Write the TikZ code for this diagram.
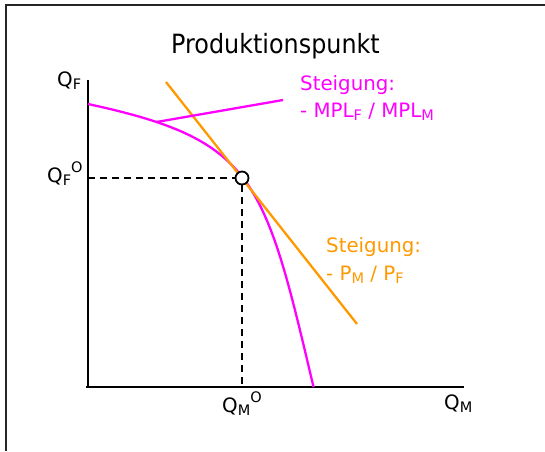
\documentclass[tikz,border=0pt]{standalone}
\usepackage{fontspec}
\setmainfont{DejaVu Sans}
\newfontfamily\titlefont{DejaVu Sans}[FakeStretch=0.9]
\definecolor{mag}{RGB}{255,0,255}
\definecolor{org}{RGB}{255,153,0}
\newcommand\lsub[1]{\raisebox{-3.5pt}{\fontsize{14.5}{14.5}\selectfont #1}}
\newcommand\lsup[1]{\raisebox{10pt}{\fontsize{14.5}{14.5}\selectfont #1}}
\begin{document}
\begin{tikzpicture}[x=1pt,y=-1pt,
  lbl/.style={inner sep=0pt, anchor=base west, font=\fontsize{19.8}{22}\selectfont},
  axisline/.style={line width=2.4pt, black},
  framel/.style={line width=2pt, black!85},
  dashline/.style={line width=2.2pt, black, dash pattern=on 7pt off 5pt},
  magline/.style={line width=2.3pt, mag},
  orgline/.style={line width=2.3pt, org},
  pointc/.style={circle, draw=black, fill=white, line width=1.8pt, minimum size=13pt, inner sep=0pt}]
\useasboundingbox (0,0) rectangle (545,451);
% frame
\draw[framel] (6,451) -- (6,5) -- (545,5);
% title
\node[inner sep=0pt, anchor=base west, font=\titlefont\fontsize{26.5}{30}\selectfont] (title) at (171,53) {Produktionspunkt};
% axes
\coordinate (ytop) at (88,80);
\coordinate (orig) at (88,387);
\coordinate (xstart) at (86,387);
\coordinate (xend) at (464,387);
\draw[axisline] (ytop) -- (orig);
\draw[axisline] (xstart) -- (xend);
% axis labels
\node[lbl] (qf) at (57,86) {Q\lsub{F}};
\node[lbl] (qfo) at (47,182) {Q\lsub{F}\lsup{O}};
\node[lbl] (qmo) at (222,412) {Q\lsub{M}\lsup{O}};
\node[lbl] (qm) at (444,409) {Q\lsub{M}};
% production possibility curve
\coordinate (cstart) at (88,104);
\coordinate (cend) at (313.5,387);
\draw[magline] (cstart) .. controls (254,140) and (264,176) .. coordinate[pos=0.16] (ptr) (cend);
% tangent
\coordinate (oa) at (166,82);
\coordinate (ob) at (357,324);
\draw[orgline] (oa) -- (ob);
% pointer to curve slope label
\coordinate (ptrend) at (283,100);
\draw[magline] (ptr) -- (ptrend);
% production point
\node[pointc] (opt) at (242,178) {};
\coordinate (yF) at (88,178);
\coordinate (xM) at (242,387);
\draw[dashline] (yF) -- (opt.west);
\draw[dashline] (opt.south) -- (xM);
% slope labels
\node[lbl, text=mag] (ms1) at (300,90) {Steigung:};
\node[lbl, text=mag] (ms2) at (300,117) {- MPL\lsub{F} / MPL\lsub{M}};
\node[lbl, text=org] (os1) at (326,252) {Steigung:};
\node[lbl, text=org] (os2) at (326,280) {- P\lsub{M} / P\lsub{F}};
\end{tikzpicture}
\end{document}
